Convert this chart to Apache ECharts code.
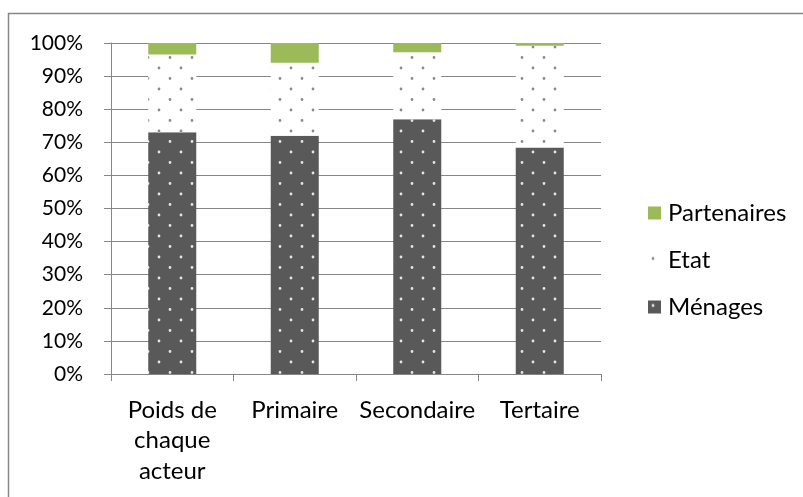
<!DOCTYPE html>
<html>
<head>
<meta charset="utf-8">
<script src="https://cdn.jsdelivr.net/npm/echarts@6/dist/echarts.min.js"></script>
<style>
  html, body { margin: 0; padding: 0; background: #fff; }
  #chart { width: 803px; height: 497px; }
</style>
</head>
<body>
<div id="chart"></div>
<script>
var categories = ['Poids de\nchaque\nacteur', 'Primaire', 'Secondaire', 'Tertaire'];
var menages = [73, 72, 77, 68.4];
var etat = [23.5, 22, 20.2, 30.8];
var partenaires = [3.5, 6, 2.8, 0.8];
var yTicks = [0, 10, 20, 30, 40, 50, 60, 70, 80, 90, 100];

var FONT = 'Lato';
var GRID_COLOR = '#868686';

// dotted fill, staggered rows like the office pattern
function dotPattern(bg, dot) {
  var c = document.createElement('canvas');
  c.width = 22;
  c.height = 21;
  var ctx = c.getContext('2d');
  ctx.fillStyle = bg;
  ctx.fillRect(0, 0, c.width, c.height);
  ctx.fillStyle = dot;
  ctx.beginPath();
  ctx.arc(5, 5, 1.4, 0, Math.PI * 2);
  ctx.arc(16, 15.5, 1.4, 0, Math.PI * 2);
  ctx.fill();
  return { image: c, repeat: 'repeat' };
}

var chart = echarts.init(document.getElementById('chart'));
chart.setOption({
  backgroundColor: '#fff',
  animation: false,
  textStyle: { fontFamily: FONT },
  graphic: [{
    type: 'rect',
    shape: { x: 8.5, y: 13.5, width: 1000, height: 1000 },
    style: { fill: 'none', stroke: GRID_COLOR, lineWidth: 1.5 },
    silent: true
  }],
  grid: { left: 111, right: 202, top: 43, bottom: 123 },
  legend: {
    orient: 'vertical',
    left: 643,
    top: 196,
    itemWidth: 13,
    itemHeight: 13,
    itemGap: 23,
    icon: 'rect',
    data: ['Partenaires', 'Etat', 'Ménages'],
    textStyle: { fontFamily: FONT, fontSize: 24, color: '#000', padding: [0, 0, 0, 2] }
  },
  xAxis: {
    type: 'category',
    data: categories,
    axisLine: { lineStyle: { color: GRID_COLOR, width: 1 } },
    axisTick: { show: true, length: 7, lineStyle: { color: GRID_COLOR } },
    axisLabel: { fontFamily: FONT, fontSize: 24, color: '#000', margin: 21, lineHeight: 30.5, interval: 0 }
  },
  yAxis: {
    type: 'value',
    min: 0,
    max: 100,
    interval: 10,
    axisLine: { show: true, lineStyle: { color: GRID_COLOR, width: 1 } },
    axisTick: { show: true, length: 7, lineStyle: { color: GRID_COLOR } },
    splitLine: { lineStyle: { color: GRID_COLOR, width: 1 } },
    axisLabel: {
      fontFamily: FONT, fontSize: 21, color: '#000', margin: 28,
      formatter: function (v) { return yTicks.indexOf(v) >= 0 ? v + '%' : ''; }
    }
  },
  series: [
    {
      name: 'Ménages', type: 'bar', stack: 'total', barWidth: 48,
      data: menages,
      itemStyle: { color: dotPattern('#595959', '#e6e6e6') }
    },
    {
      name: 'Etat', type: 'bar', stack: 'total', barWidth: 48,
      data: etat,
      itemStyle: { color: dotPattern('#ffffff', '#8a8a8a') }
    },
    {
      name: 'Partenaires', type: 'bar', stack: 'total', barWidth: 48,
      data: partenaires,
      itemStyle: { color: '#9BBB59' }
    }
  ]
});
</script>
</body>
</html>
